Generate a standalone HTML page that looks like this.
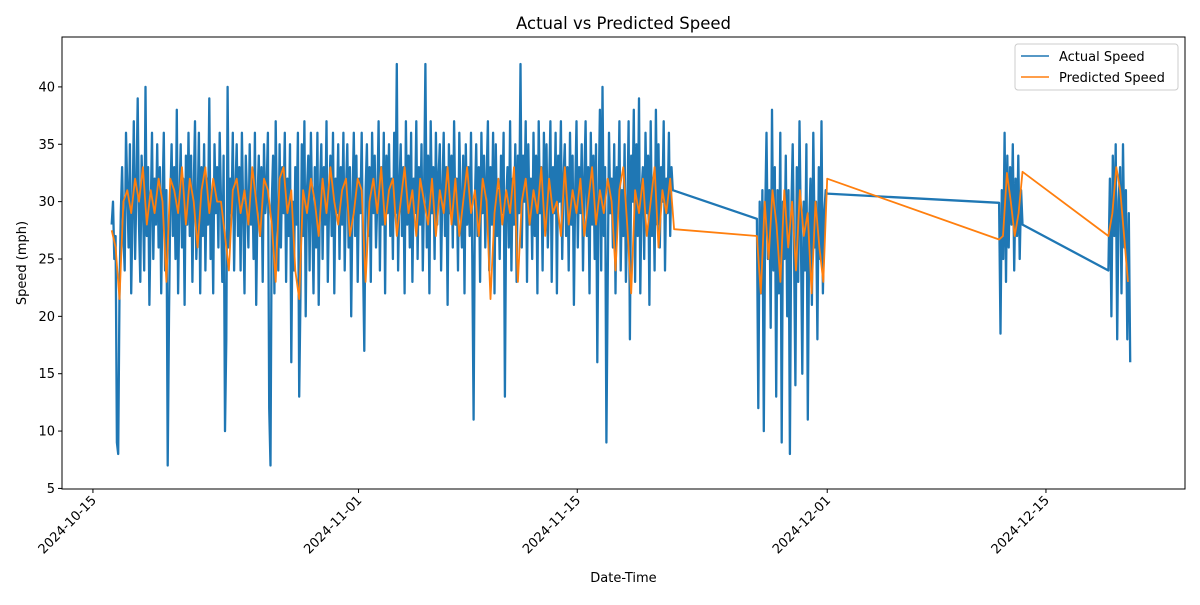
<!DOCTYPE html>
<html><head><meta charset="utf-8"><style>
body{margin:0;background:#fff;font-family:"Liberation Sans","DejaVu Sans",sans-serif}
svg text{font-family:"DejaVu Sans","Liberation Sans",sans-serif}
</style></head><body>
<svg id="chart" width="1200" height="600" xmlns="http://www.w3.org/2000/svg"></svg>
<script>
// ---- data ----
const yTicks=[5,10,15,20,25,30,35,40];
const xTickLabels=["2024-10-15","2024-11-01","2024-11-15","2024-12-01","2024-12-15"];
const xTickDays=[0,17,31,47,61];
const actualStarts=[1.2,42.5,58,65];
const actualSteps=[1/12,0.088,0.088,0.093];
const actualSeg1=[28,30,25,27,9,8,22,29,33,27,24,36,
31,26,35,22,29,37,25,31,39,28,23,34,
30,24,40,27,33,21,29,36,25,32,28,35,
26,33,22,30,36,24,31,7,20,30,35,27,
33,25,38,22,30,35,26,32,21,34,28,36,
27,34,23,31,37,25,29,36,22,33,27,35,
24,32,28,39,25,31,22,35,29,33,26,36,
30,23,34,10,18,40,26,32,29,36,24,31,
35,27,33,24,36,29,22,34,30,26,35,28,
32,25,36,21,30,34,27,33,23,35,29,31,
36,12,7,30,34,22,37,28,24,35,26,33,
29,36,23,32,27,35,16,30,24,33,28,36,
13,22,35,27,37,20,31,34,24,36,29,22,
33,26,36,21,31,35,25,33,28,37,23,30,
34,27,36,22,32,29,35,25,33,28,36,24,
31,35,26,33,20,30,36,27,34,23,32,29,
36,25,17,31,35,27,33,23,36,29,34,26,
30,37,24,33,28,36,22,34,29,35,27,32,
25,36,29,42,24,31,35,27,33,22,37,28,
34,26,36,23,32,29,37,25,33,28,35,24,
31,42,26,34,22,37,29,33,25,36,28,32,
35,24,31,36,27,33,21,35,29,34,26,37,
28,32,24,36,30,26,34,22,35,28,33,27,
36,25,11,30,35,27,33,23,36,29,34,26,
32,37,24,33,28,36,22,35,27,31,25,34,
29,36,13,30,33,26,37,24,32,28,35,23,
34,29,42,26,34,30,37,23,35,28,32,25,
36,27,34,22,37,29,33,24,36,28,35,26,
31,37,23,33,29,36,22,34,30,37,25,32,
35,27,33,24,36,28,34,21,31,37,26,33,
29,35,24,32,37,27,33,22,36,28,34,25,
35,16,30,38,24,40,27,33,9,23,36,29,
32,26,35,22,33,29,37,24,31,27,35,23,
28,37,18,34,30,38,23,35,27,39,22,31,
33,25,36,29,34,21,37,27,32,24,38,28,
35,26,33,30,37,24,32,29,36,27,33,31];
const actualSeg2=[28.5,12,30,22,31,10,29,36,25,31,19,38,24,33,13,31,22,36,9,30,25,34,20,31,8,29,35,26,14,33,23,37,27,15,30,24,35,11,28,32,21,36,26,30,18,33,25,37,22,29,31,30.7];
const actualSeg3=[29.9,18.5,31,25,36,23,34,26,33,28,35,24,32,27,34,25,31,28];
const actualSeg4=[24,32,20,34,27,35,18,30,33,22,35,26,31,18,29,16];
const predStarts=[1.2,42.5,58,65];
const predSteps=[0.25,0.25,0.25,0.25];
const predSeg1=[27.5,26,21.5,30,31,29,32,30,33,28,31,29,32,30,23,32,31,29,33,28,32,30,26,31,33,29,32,30,30,27,24,31,32,29,31,28,33,30,27,32,31,28,23,32,33,29,31,24,21.5,31,29,32,30,27,32,29,33,30,28,31,32,27,29,32,31,23,30,32,29,33,28,31,32,27,30,33,29,31,27,32,30,28,32,27,31,29,33,28,32,27,30,33,29,31,27,32,30,21.5,29,32,28,31,29,33,23,30,32,28,31,29,33,27,32,29,30,27,33,28,31,29,32,27,30,33,28,31,29,32,30,24,31,33,28,22,31,29,32,27,30,33,26,31,29,32,27.6];
const predSeg2=[27,22,30,25,31,28,23,31,26,30,24,31,27,29,22,30,26,23,32];
const predSeg3=[26.7,27,32.5,30,27,29,32.6];
const predSeg4=[27,29,33,31,27,23];
// ---- layout ----
const L=62,R=1185,T=37,B=489;
const dMin=-1.98,dMax=69.9,yMin=4.95,yMax=44.35;
const xS=d=>L+(d-dMin)/(dMax-dMin)*(R-L);
const yS=v=>B-(v-yMin)/(yMax-yMin)*(B-T);
const svg=document.getElementById('chart');
const NS="http://www.w3.org/2000/svg";
function mk(tag,attrs,parent){const e=document.createElementNS(NS,tag);for(const k in attrs)e.setAttribute(k,attrs[k]);(parent||svg).appendChild(e);return e;}
function pts(starts,steps,segs){const p=[];segs.forEach((s,i)=>s.forEach((v,j)=>p.push(xS(starts[i]+j*steps[i]).toFixed(1)+","+yS(v).toFixed(1))));return p.join(" ");}
const clip=mk('clipPath',{id:'cp'});mk('rect',{x:L,y:T,width:R-L,height:B-T},clip);
const a=mk('polyline',{points:pts(actualStarts,actualSteps,[actualSeg1,actualSeg2,actualSeg3,actualSeg4]),fill:'none',stroke:'#1f77b4','stroke-width':2.3,'stroke-linejoin':'round','clip-path':'url(#cp)'});


const p=mk('polyline',{points:pts(predStarts,predSteps,[predSeg1,predSeg2,predSeg3,predSeg4]),fill:'none',stroke:'#ff7f0e','stroke-width':1.8,'stroke-linejoin':'round','clip-path':'url(#cp)'});


const fr=mk('rect',{x:L,y:T,width:R-L,height:B-T,fill:'none',stroke:'#000','stroke-width':1});


yTicks.forEach(v=>{const y=yS(v);mk('line',{x1:L-4,x2:L,y1:y,y2:y,stroke:'#000'});
const t=mk('text',{x:L-7,y:y+4.5,'text-anchor':'end','font-size':13});t.textContent=v;

});
xTickDays.forEach((d,i)=>{const x=xS(d);mk('line',{x1:x,x2:x,y1:B,y2:B+4,stroke:'#000'});
const t=mk('text',{x:x+4,y:B+12,'text-anchor':'end','font-size':13,transform:`rotate(-45 ${x+4} ${B+12})`});t.textContent=xTickLabels[i];

});
const ti=mk('text',{x:(L+R)/2,y:29,'text-anchor':'middle','font-size':16.5});ti.textContent="Actual vs Predicted Speed";


const xl=mk('text',{x:(L+R)/2,y:582,'text-anchor':'middle','font-size':13});xl.textContent="Date-Time";


const yl=mk('text',{x:26,y:(T+B)/2,'text-anchor':'middle','font-size':13,transform:`rotate(-90 26 ${(T+B)/2})`});yl.textContent="Speed (mph)";


const lg=mk('g',{});


mk('rect',{x:1015,y:44,width:163,height:46,rx:3,fill:'#fff','fill-opacity':0.8,stroke:'#ccc'},lg);
mk('line',{x1:1021,x2:1049,y1:56,y2:56,stroke:'#1f77b4','stroke-width':1.5},lg);
mk('line',{x1:1021,x2:1049,y1:77,y2:77,stroke:'#ff7f0e','stroke-width':1.5},lg);
const l1=mk('text',{x:1059,y:61,'font-size':13},lg);l1.textContent="Actual Speed";


const l2=mk('text',{x:1059,y:82,'font-size':13},lg);l2.textContent="Predicted Speed";


</script>
</body></html>
